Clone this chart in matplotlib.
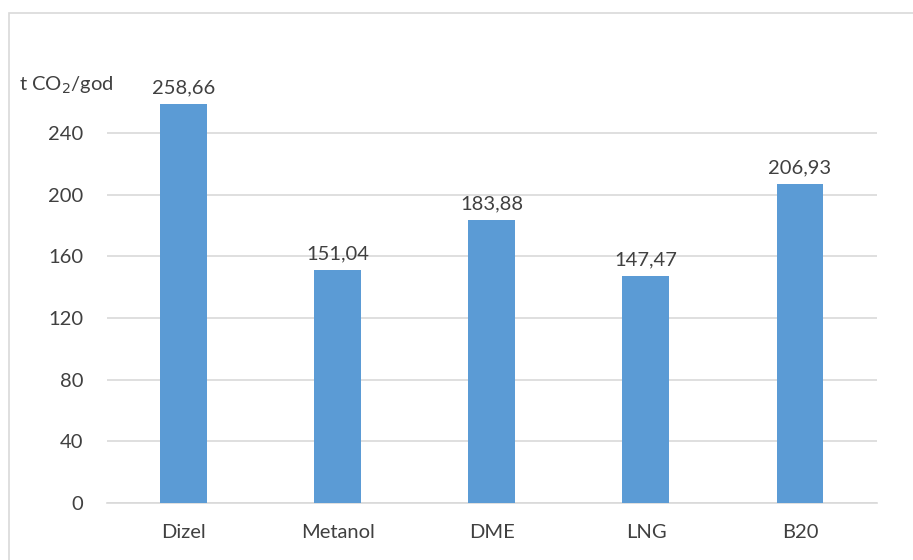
import matplotlib.pyplot as plt
from matplotlib.patches import Rectangle

categories = ['Dizel', 'Metanol', 'DME', 'LNG', 'B20']
values = [258.66, 151.04, 183.88, 147.47, 206.93]
yticks = [0, 40, 80, 120, 160, 200, 240]

plt.rcParams['font.family'] = ['Lato', 'DejaVu Sans']
text_color = '#404040'
fs = 14.5

fig = plt.figure(figsize=(9.13, 5.6), dpi=100)
ax = fig.add_axes([0.117, 0.1018, 0.8436, 0.743])

x = range(len(categories))
ax.bar(x, values, width=0.305, color='#5B9BD5', zorder=3)

for xi, v in zip(x, values):
    label = f'{v:.2f}'.replace('.', ',')
    ax.text(xi, v + 5, label, ha='center', va='bottom', fontsize=fs, color=text_color)

ax.set_xlim(-0.5, len(categories) - 0.5)
ax.set_ylim(0, 270)
ax.set_yticks(yticks)
ax.set_xticks(list(x))
ax.set_xticklabels(categories)
ax.yaxis.grid(True, color='#D9D9D9', linewidth=1.2, zorder=0)
ax.tick_params(axis='both', length=0, labelsize=fs, colors=text_color)
ax.tick_params(axis='x', pad=15)
ax.tick_params(axis='y', pad=17)
for side in ['top', 'right', 'left']:
    ax.spines[side].set_visible(False)
ax.spines['bottom'].set_color('#D9D9D9')
ax.spines['bottom'].set_linewidth(1.2)

fig.text(0.021, 0.848, 't CO$_2$/god', fontsize=fs, color=text_color, va='center')

# outer chart border
fig.patches.append(Rectangle((9 / 913, -0.05), 1.05, 1 - 13 / 560 + 0.05,
                             transform=fig.transFigure, fill=False,
                             edgecolor='#D9D9D9', linewidth=1.2))

fig.savefig('out.png', dpi=100)
